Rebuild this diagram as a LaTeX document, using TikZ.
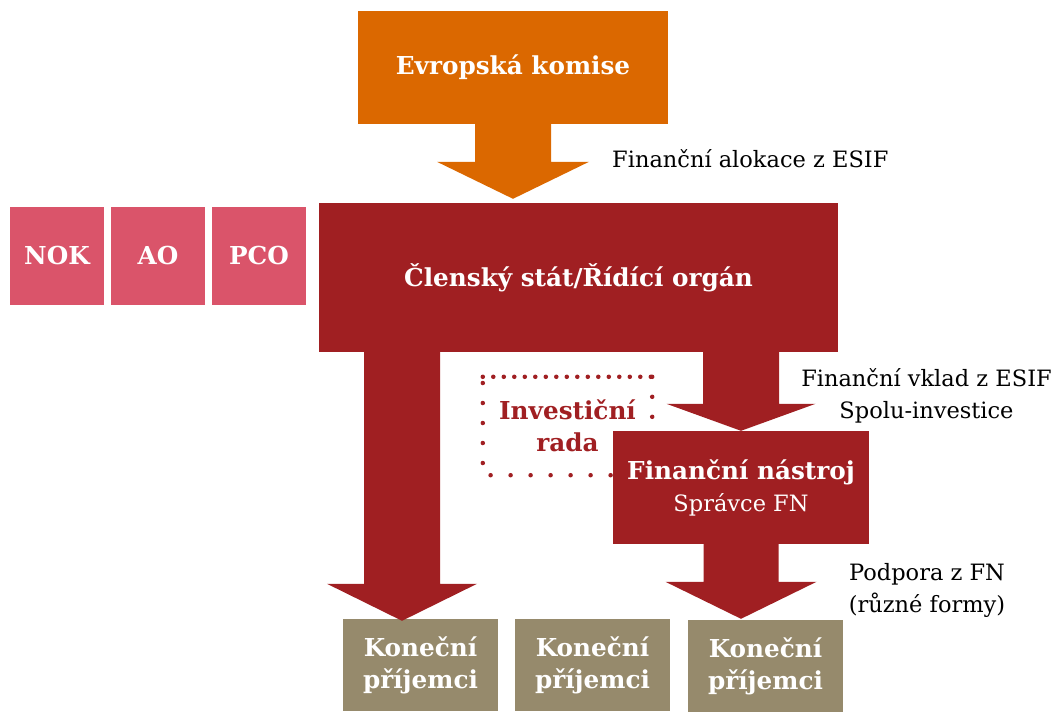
\documentclass[tikz,border=0pt]{standalone}
\usepackage{fontspec}
\setmainfont{DejaVu Serif}
\usetikzlibrary{calc}

\definecolor{ekorange}{HTML}{DB6800}
\definecolor{msred}{HTML}{A01F22}
\definecolor{orgpink}{HTML}{DA546A}
\definecolor{kptan}{HTML}{968A6C}

\tikzset{
  box/.style={inner sep=0pt, text=white, align=center,
    font=\bfseries\fontsize{24.7}{32}\selectfont},
  popis/.style={inner sep=0pt, align=center,
    font=\fontsize{22.5}{32}\selectfont},
  tecky/.style={msred, line width=4.5pt, line cap=round}
}

% fat arrow: colour, start, tip, half shaft, half head, head length
\newcommand{\sipka}[6]{%
  \fill[#1] ($(#2)+(-#4,0)$) -- ($(#3)+(-#4,-#6)$) -- ($(#3)+(-#5,-#6)$)
    -- (#3) -- ($(#3)+(#5,-#6)$) -- ($(#3)+(#4,-#6)$) -- ($(#2)+(#4,0)$) -- cycle;}

\begin{document}
\begin{tikzpicture}[x=1pt,y=-1pt]
\useasboundingbox (0,0) rectangle (1059,713);

\node[box, fill=ekorange, minimum width=310pt, minimum height=113pt] (ek) at (513,67.5) {Evropská komise};
\node[box, fill=msred, minimum width=519pt, minimum height=149pt] (ms) at (578.5,277.5) {Členský stát/Řídící orgán};
\foreach \jm/\x/\t in {nok/57/NOK, ao/158/AO, pco/259/PCO}
  \node[box, fill=orgpink, minimum width=94pt, minimum height=98pt] (\jm) at (\x,256) {\t};

% investicni rada
\node[box, text=msred, minimum width=169pt, minimum height=98pt] (ir) at (567.5,426) {Investiční\\rada};
\draw[tecky, dash pattern=on 0pt off 10.5pt] (ir.north west) -- (ir.north east);
\draw[tecky, dash pattern=on 0pt off 20pt] (ir.north east) -- (ir.south east) -- (ir.south west) -- (ir.north west);

\node[box, fill=msred, minimum width=256pt, minimum height=113pt] (fn) at (741,487.5)
  {Finanční nástroj\\{\mdseries\fontsize{22.5}{32}\selectfont Správce FN}};

\foreach \jm/\x/\y in {kp1/420.5/665, kp2/592.5/665, kp3/765.5/666}
  \node[box, fill=kptan, minimum width=155pt, minimum height=92pt] (\jm) at (\x,\y) {Koneční\\příjemci};

% sipky
\coordinate (t1) at ([yshift=4pt]ek.south |- ms.north);
\sipka{ekorange}{ek.south}{t1}{38}{76}{37}
\coordinate (t2) at ([xshift=-18.5pt, yshift=-2pt]kp1.north);
\coordinate (s2) at (t2 |- ms.south);
\sipka{msred}{s2}{t2}{38}{75}{37}
\coordinate (t3) at (fn.north);
\coordinate (s3) at (t3 |- ms.south);
\sipka{msred}{s3}{t3}{38}{74.5}{27}
\coordinate (t4) at (fn.south |- kp1.north);
\sipka{msred}{fn.south}{t4}{37.5}{75.5}{37}

% popisky
\node[popis, anchor=base west] (alok) at (612,167) {Finanční alokace z ESIF};
\node[popis] (vklad) at (926.5,396) {Finanční vklad z ESIF\\Spolu-investice};
\node[popis] (podp) at (927,590) {Podpora z FN\\(různé formy)};
\end{tikzpicture}
\end{document}
